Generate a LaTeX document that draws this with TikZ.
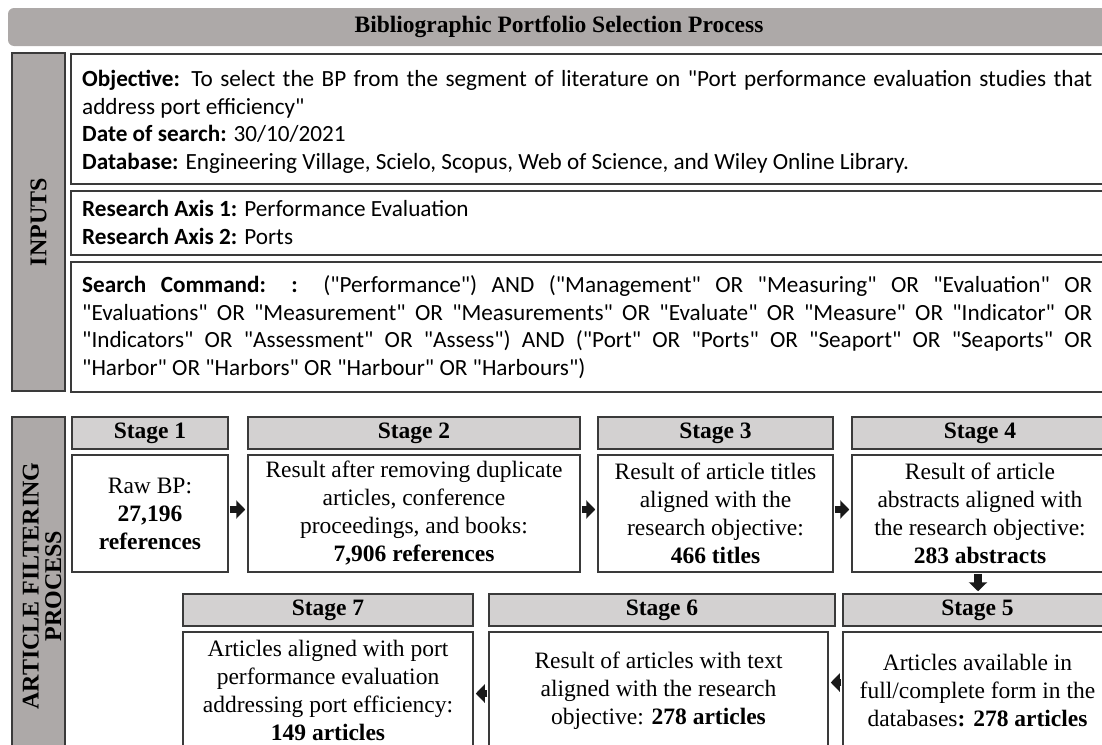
\documentclass[tikz,border=0pt]{standalone}
\usepackage{fontspec}
\setmainfont{Liberation Serif}
\newfontfamily\calfont{Carlito}
\usetikzlibrary{arrows.meta}
\definecolor{hdrgray}{HTML}{ADA9A8}
\definecolor{stagegray}{HTML}{D3D1D1}
\definecolor{edgecol}{HTML}{3A3A3A}
\newcommand{\justline}[1]{\makebox[1010pt][s]{#1}}
\begin{document}
\begin{tikzpicture}[x=1pt,y=-1pt,
  sidebar/.style={draw=edgecol, line width=1.5pt, fill=hdrgray},
  inbox/.style={draw=edgecol, line width=1.8pt, fill=white},
  stagehead/.style={draw=edgecol, line width=1.5pt, fill=stagegray, inner sep=0pt,
     font=\fontsize{23.5}{28}\selectfont\bfseries},
  stagebody/.style={draw=edgecol, line width=1.5pt, fill=white, inner sep=0pt, align=center,
     font=\fontsize{23.5}{28}\selectfont},
  intext/.style={anchor=west, inner sep=0pt, align=left, font=\calfont\fontsize{23.2}{27.5}\selectfont},
  sidelabel/.style={rotate=90, inner sep=0pt, align=center, font=\fontsize{24}{21.5}\selectfont\bfseries},
  flow/.style={line width=7.5pt, draw=black!90, -{Triangle[length=9pt,width=18pt]}, shorten <=1pt, shorten >=2pt}
]
\useasboundingbox (0,0) rectangle (1102,744);
\clip (0,0) rectangle (1102,744);

% title bar
\draw[fill=hdrgray, draw=none, rounded corners=6pt] (8,8) rectangle (1120,46);
\node[font=\fontsize{23.5}{28}\selectfont\bfseries] (title) at (559,27) {Bibliographic Portfolio Selection Process};

% INPUTS
\node[sidebar, minimum width=53pt, minimum height=338pt, inner sep=0pt] (inbar) at (38.5,222) {};
\node[sidelabel] (inlab) at (inbar.center) {INPUTS};

\node[inbox, anchor=north west, minimum width=1040pt, minimum height=130pt, inner sep=0pt] (box1) at (70,53) {};
\node[inbox, anchor=north west, minimum width=1040pt, minimum height=64pt, inner sep=0pt] (box2) at (70,190) {};
\node[inbox, anchor=north west, minimum width=1040pt, minimum height=130pt, inner sep=0pt] (box3) at (70,261) {};

\node[intext] (t1) at (82,122) {%
\justline{\textbf{Objective:} To select the BP from the segment of literature on "Port performance evaluation studies that}\\
address port efficiency"\\
\textbf{Date of search:} 30/10/2021\\
\textbf{Database:} Engineering Village, Scielo, Scopus, Web of Science, and Wiley Online Library.};

\node[intext] (t2) at (82,222.5) {%
\textbf{Research Axis 1:} Performance Evaluation\\
\textbf{Research Axis 2:} Ports};

\node[intext] (t3) at (82,327) {%
\justline{\textbf{Search Command: :} ("Performance") AND ("Management" OR "Measuring" OR "Evaluation" OR}\\
\justline{"Evaluations" OR "Measurement" OR "Measurements" OR "Evaluate" OR "Measure" OR "Indicator" OR}\\
\justline{"Indicators" OR "Assessment" OR "Assess") AND ("Port" OR "Ports" OR "Seaport" OR "Seaports" OR}\\
"Harbor" OR "Harbors" OR "Harbour" OR "Harbours")};

% ARTICLE FILTERING PROCESS
\node[sidebar, minimum width=53pt, minimum height=332pt, inner sep=0pt] (afbar) at (38.5,583) {};
\node[sidelabel] (aflab) at (42,586) {ARTICLE FILTERING\\[1pt]PROCESS};

% Stage row 1
\node[stagehead, minimum width=156pt, minimum height=32pt] (h1) at (150,433) {Stage 1};
\node[stagebody, minimum width=156pt, minimum height=117pt] (b1) at (150,513.5) {Raw BP:\\\textbf{27,196}\\\textbf{references}};

\node[stagehead, minimum width=332pt, minimum height=32pt] (h2) at (414,433) {Stage 2};
\node[stagebody, minimum width=332pt, minimum height=117pt] (b2) at (414,513.5) {Result after removing duplicate\\articles, conference\\proceedings, and books:\\\textbf{7,906 references}};

\node[stagehead, minimum width=235pt, minimum height=32pt] (h3) at (715.5,433) {Stage 3};
\node[stagebody, minimum width=235pt, minimum height=117pt] (b3) at (715.5,513.5) {Result of article titles\\aligned with the\\research objective:\\\textbf{466 titles}};

\node[stagehead, minimum width=256pt, minimum height=32pt] (h4) at (980,433) {Stage 4};
\node[stagebody, minimum width=256pt, minimum height=117pt] (b4) at (980,513.5) {Result of article\\abstracts aligned with\\the research objective:\\\textbf{283 abstracts}};

% Stage row 2
\node[stagehead, minimum width=269pt, minimum height=32pt] (h5) at (977.5,610) {Stage 5};
\node[stagebody, minimum width=269pt, minimum height=117pt] (b5) at (977.5,690.5) {Articles available in\\full/complete form in the\\databases\textbf{: 278 articles}};

\node[stagehead, minimum width=346pt, minimum height=32pt] (h6) at (662,610) {Stage 6};
\node[stagebody, minimum width=339pt, minimum height=117pt] (b6) at (658.5,690.5) {Result of articles with text\\aligned with the research\\objective: \textbf{278 articles}};

\node[stagehead, minimum width=290pt, minimum height=32pt] (h7) at (328,610) {Stage 7};
\node[stagebody, minimum width=290pt, minimum height=117pt] (b7) at (328,690.5) {Articles aligned with port\\performance evaluation\\addressing port efficiency:\\\textbf{149 articles}};

% arrows
\draw[flow] ([yshift=4pt]b1.east) -- ([yshift=4pt]b2.west);
\draw[flow] ([yshift=4pt]b2.east) -- ([yshift=4pt]b3.west);
\draw[flow] ([yshift=4pt]b3.east) -- ([yshift=4pt]b4.west);
\draw[flow] ([xshift=-2pt]b4.south) -- ([xshift=-2pt]b4.south |- h5.north);
\draw[flow] ([yshift=8pt]b5.west) -- ([yshift=8pt]b6.east);
\draw[flow] ([yshift=-3pt]b6.west) -- ([yshift=-3pt]b7.east);
\end{tikzpicture}
\end{document}
